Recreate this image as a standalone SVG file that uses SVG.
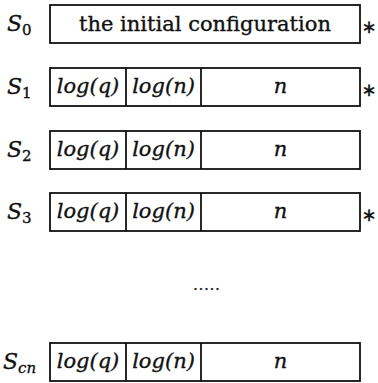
<svg xmlns="http://www.w3.org/2000/svg" width="378" height="383" viewBox="0 0 378 383">
<style>
.box{fill:#fff;stroke:#111;stroke-width:1.8}
text{font-family:'DejaVu Serif','Liberation Serif',serif;fill:#111;stroke:#111;stroke-width:0.35}
.m{font-style:italic;font-size:21px}
.r{font-size:21px}
.lab{font-style:italic;font-size:22px}
.sub{font-size:15px;font-style:normal}
.subi{font-size:15px;font-style:italic}
.c{text-anchor:middle}
.star{font-family:'DejaVu Sans',sans-serif;font-size:18px;font-style:normal;text-anchor:middle}
</style>
<rect width="378" height="383" fill="#fff"/>
<g id="row0">
<text class="lab" x="7" y="31">S<tspan class="sub" dy="4">0</tspan></text>
<rect class="box" x="50" y="5" width="310" height="38"/>
<text class="r c" x="205" y="31">the initial configuration</text>
<text class="star" x="369" y="33">∗</text>
</g>
<g id="row1">
<text class="lab" x="7" y="94">S<tspan class="sub" dy="4">1</tspan></text>
<rect class="box" x="50" y="68" width="310" height="38"/>
<line class="box" x1="126" y1="68" x2="126" y2="106"/>
<line class="box" x1="201" y1="68" x2="201" y2="106"/>
<text class="m c" x="88" y="93">log(q)</text>
<text class="m c" x="163.5" y="93">log(n)</text>
<text class="m c" x="280.5" y="93">n</text>
<text class="star" x="369" y="96">∗</text>
</g>
<g id="row2">
<text class="lab" x="7" y="157">S<tspan class="sub" dy="4">2</tspan></text>
<rect class="box" x="50" y="131" width="310" height="38"/>
<line class="box" x1="126" y1="131" x2="126" y2="169"/>
<line class="box" x1="201" y1="131" x2="201" y2="169"/>
<text class="m c" x="88" y="156">log(q)</text>
<text class="m c" x="163.5" y="156">log(n)</text>
<text class="m c" x="280.5" y="156">n</text>
</g>
<g id="row3">
<text class="lab" x="7" y="219">S<tspan class="sub" dy="4">3</tspan></text>
<rect class="box" x="50" y="193" width="310" height="38"/>
<line class="box" x1="126" y1="193" x2="126" y2="231"/>
<line class="box" x1="201" y1="193" x2="201" y2="231"/>
<text class="m c" x="88" y="218">log(q)</text>
<text class="m c" x="163.5" y="218">log(n)</text>
<text class="m c" x="280.5" y="218">n</text>
<text class="star" x="369" y="221">∗</text>
</g>
<g id="dots">
<text class="c" x="207" y="290" style="font-size:14px;letter-spacing:1px">.....</text>
</g>
<g id="rowcn">
<text class="lab" x="3" y="369">S<tspan class="subi" dy="4">cn</tspan></text>
<rect class="box" x="50" y="343" width="310" height="38"/>
<line class="box" x1="126" y1="343" x2="126" y2="381"/>
<line class="box" x1="201" y1="343" x2="201" y2="381"/>
<text class="m c" x="88" y="368">log(q)</text>
<text class="m c" x="163.5" y="368">log(n)</text>
<text class="m c" x="280.5" y="368">n</text>
</g>
<g id="connectors"></g>
</svg>
